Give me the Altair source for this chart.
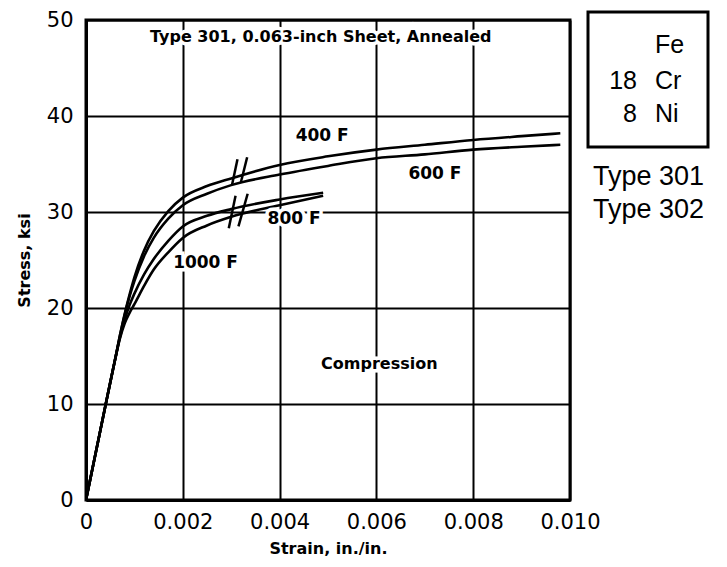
import altair as alt
import pandas as pd

# ---- data ----
strain_400 = [0, 0.0004, 0.0006, 0.0007, 0.0008, 0.0009, 0.001, 0.0012, 0.0014, 0.0017, 0.002, 0.0025, 0.003, 0.004, 0.005, 0.006, 0.007, 0.008, 0.009, 0.0098]
stress_400 = [0, 9.8, 14.6, 17.1, 19.4, 21.4, 23.2, 26.0, 28.0, 30.1, 31.5, 32.7, 33.5, 34.9, 35.8, 36.5, 37.0, 37.5, 37.9, 38.2]
strain_600 = [0, 0.0004, 0.0006, 0.0007, 0.0008, 0.0009, 0.001, 0.0012, 0.0014, 0.0017, 0.002, 0.0025, 0.003, 0.004, 0.005, 0.006, 0.007, 0.008, 0.009, 0.0098]
stress_600 = [0, 9.8, 14.6, 17.1, 19.3, 21.2, 22.8, 25.4, 27.3, 29.3, 30.7, 31.9, 32.8, 33.9, 34.8, 35.6, 36.0, 36.5, 36.8, 37.0]
strain_800 = [0, 0.0004, 0.0006, 0.0007, 0.0008, 0.0009, 0.001, 0.0012, 0.0014, 0.0017, 0.002, 0.0025, 0.003, 0.004, 0.0049]
stress_800 = [0, 9.8, 14.6, 16.9, 18.8, 20.3, 21.5, 23.5, 25.1, 27.0, 28.5, 29.6, 30.3, 31.3, 32.0]
strain_1000 = [0, 0.0004, 0.0006, 0.0007, 0.0008, 0.0009, 0.001, 0.0012, 0.0014, 0.0017, 0.002, 0.0025, 0.003, 0.004, 0.0049]
stress_1000 = [0, 9.8, 14.6, 16.8, 18.4, 19.5, 20.4, 22.3, 24.0, 25.8, 27.3, 28.6, 29.5, 30.7, 31.7]

# break marks "//" (x, y, x2, y2 in data units)
break_x = [0.00302, 0.00320, 0.00295, 0.00315]
break_y = [32.9, 33.1, 28.3, 28.5]
break_x2 = [0.00313, 0.00333, 0.00309, 0.00334]
break_y2 = [35.5, 35.7, 31.7, 31.9]

# in-plot labels
label_text = ["Type 301, 0.063-inch Sheet, Annealed", "400 F", "600 F", "800 F", "1000 F", "Compression"]
label_x = [0.00485, 0.00488, 0.00721, 0.00430, 0.00247, 0.00606]
label_y = [48.2, 37.9, 34.0, 29.3, 24.7, 14.2]
label_size = [16, 17, 17, 17, 17, 16]

x_ticks = [0, 0.002, 0.004, 0.006, 0.008, 0.010]
y_ticks = [0, 10, 20, 30, 40, 50]

box_numbers = ["", "18", "8"]
box_symbols = ["Fe", "Cr", "Ni"]
type_lines = ["Type 301", "Type 302"]

# ---- build tables ----
rows = []
for name, xs_, ys_ in [("400 F", strain_400, stress_400), ("600 F", strain_600, stress_600),
                       ("800 F", strain_800, stress_800), ("1000 F", strain_1000, stress_1000)]:
    for i, (a, b) in enumerate(zip(xs_, ys_)):
        rows.append({"curve": name, "strain": a, "stress": b, "order": i})
curves = pd.DataFrame(rows)
breaks = pd.DataFrame({"x": break_x, "y": break_y, "x2": break_x2, "y2": break_y2})
labels = pd.DataFrame({"text": label_text, "x": label_x, "y": label_y, "size": label_size})

FONT = "DejaVu Sans"
SIDE_FONT = "Liberation Sans"
xs = alt.Scale(domain=[0, 0.010], nice=False)
ys = alt.Scale(domain=[0, 50], nice=False)

lines = alt.Chart(curves).mark_line(color="black", strokeWidth=2.6, interpolate="monotone", clip=True).encode(
    x=alt.X("strain:Q", scale=xs, axis=alt.Axis(
        values=x_ticks, title="Strain, in./in.", labelFlush=False,
        labelExpr="datum.value == 0 ? '0' : format(datum.value, '.3f')")),
    y=alt.Y("stress:Q", scale=ys, axis=alt.Axis(values=y_ticks, title="Stress, ksi", labelFlush=False)),
    detail="curve:N",
    order="order:Q",
)

brk = alt.Chart(breaks).mark_rule(color="black", strokeWidth=2.5).encode(
    x=alt.X("x:Q", scale=xs), y=alt.Y("y:Q", scale=ys), x2="x2:Q", y2="y2:Q")

halo = alt.Chart(labels).mark_text(font=FONT, fontWeight="bold", color="white",
                                   stroke="white", strokeWidth=7).encode(
    x=alt.X("x:Q", scale=xs), y=alt.Y("y:Q", scale=ys), text="text:N",
    size=alt.Size("size:Q", scale=None, legend=None))
txt = alt.Chart(labels).mark_text(font=FONT, fontWeight="bold", color="black").encode(
    x=alt.X("x:Q", scale=xs), y=alt.Y("y:Q", scale=ys), text="text:N",
    size=alt.Size("size:Q", scale=None, legend=None))

# composition box at right (outside plot area, pixel placement)
box = alt.Chart(pd.DataFrame({"a": [0]})).mark_rect(fill=None, stroke="black", strokeWidth=3, clip=False).encode(
    x=alt.value(502), x2=alt.value(622), y=alt.value(-8), y2=alt.value(127))

box_df = pd.DataFrame({"n": box_numbers, "s": box_symbols, "yy": [33, 69, 102]})
box_num = alt.Chart(box_df).mark_text(font=SIDE_FONT, fontSize=25, align="right", baseline="alphabetic",
                                       color="black", clip=False).encode(
    x=alt.value(551), y=alt.Y("yy:Q", scale=None), text="n:N")
box_sym = alt.Chart(box_df).mark_text(font=SIDE_FONT, fontSize=25, align="left", baseline="alphabetic",
                                       color="black", clip=False).encode(
    x=alt.value(569), y=alt.Y("yy:Q", scale=None), text="s:N")

type_df = pd.DataFrame({"t": type_lines, "yy": [165, 198]})
type_txt = alt.Chart(type_df).mark_text(font=SIDE_FONT, fontSize=27, align="left", baseline="alphabetic",
                                         color="black", clip=False).encode(
    x=alt.value(507), y=alt.Y("yy:Q", scale=None), text="t:N")

chart = alt.layer(lines, brk, halo, txt, box, box_num, box_sym, type_txt).properties(
    width=484, height=480,
    autosize=alt.AutoSizeParams(type="none"),
    padding={"left": 78, "top": 12, "right": 149, "bottom": 60},
    background="white",
).configure_view(stroke="black", strokeWidth=3).configure_axis(
    domainColor="black", domainWidth=3, gridColor="black", gridWidth=2, gridOpacity=1,
    ticks=False, labelFont=FONT, labelFontSize=21, labelColor="black",
    titleFont=FONT, titleFontSize=16, titleFontWeight="bold", titleColor="black",
).configure_axisX(labelPadding=11, titlePadding=8).configure_axisY(labelPadding=13, titlePadding=14)

chart.save("out.html", embed_options={"renderer": "svg", "actions": False})
